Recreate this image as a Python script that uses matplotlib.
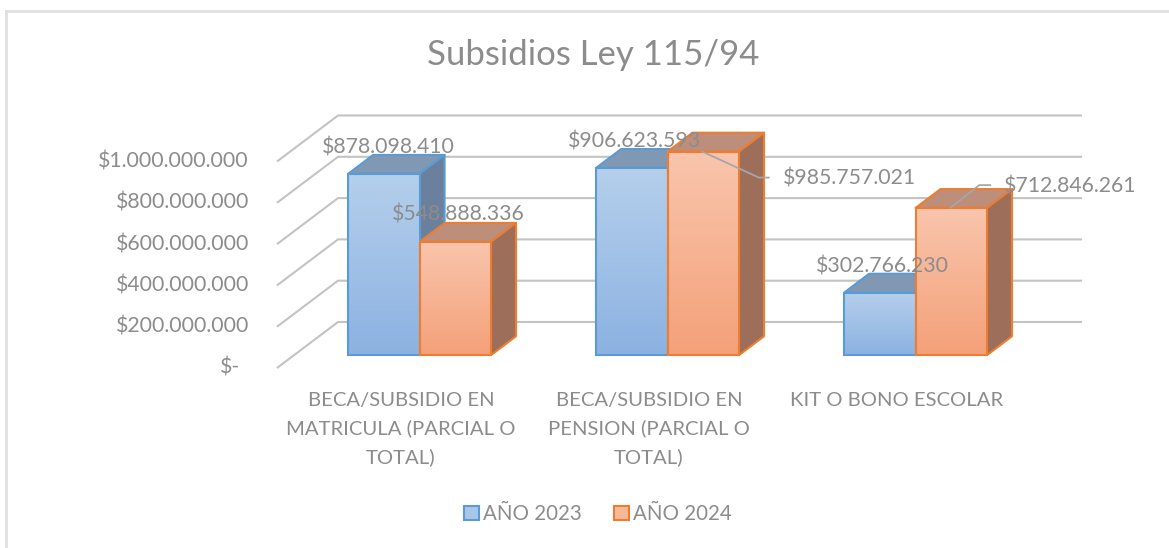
import numpy as np
import matplotlib.pyplot as plt
from matplotlib.patches import Polygon, Patch
from matplotlib.lines import Line2D
from matplotlib.colors import LinearSegmentedColormap

plt.rcParams['font.family'] = ['Lato', 'DejaVu Sans']

# data
categories = ["BECA/SUBSIDIO EN\nMATRICULA (PARCIAL O\nTOTAL)",
              "BECA/SUBSIDIO EN\nPENSION (PARCIAL O\nTOTAL)",
              "KIT O BONO ESCOLAR"]
series_names = ["AÑO 2023", "AÑO 2024"]
values_2023 = [878098410, 906623593, 302766230]
values_2024 = [548888336, 985757021, 712846261]
tick_values = [0, 200e6, 400e6, 600e6, 800e6, 1000e6]
tick_labels = ["$-", "$200.000.000", "$400.000.000", "$600.000.000",
               "$800.000.000", "$1.000.000.000"]
title = "Subsidios Ley 115/94"

# look
text_col = "#8c8c8c"
grid_col = "#c3c3c3"
front_cols = [("#b5cfec", "#8cb2e1"), ("#f9c5ad", "#f4a179")]
top_cols = ["#8198b4", "#bd8e7a"]
side_cols = ["#6a809c", "#9d6f5a"]
edge_cols = ["#5b9bd5", "#ed7d31"]
num_fs = 15.3

# oblique projection: pixels per category / per peso
PX_X = 248.0
PX_Y = 0.2065e-6
DX = 61 / PX_X          # full floor depth, in category units
DY = 46 / PX_Y          # full floor depth, in value units
Z0, Z1 = 0.28, 0.69     # bar depth span
GAP, BW = 0.218, 0.288  # gap and bar width (category units)


def px(dx, dy):
    return dx / PX_X, dy / PX_Y


fig = plt.figure(figsize=(11.69, 5.48), dpi=100)
ax = fig.add_axes([0, 0, 1, 1])
ax.set_xlim(-277 / PX_X, (1169 - 277) / PX_X)
ax.set_ylim(-(548 - 368) / PX_Y, 368 / PX_Y)
ax.axis('off')

# chart border (left + top only visible)
fig.add_artist(Line2D([6 / 1169, 6 / 1169], [0, 1 - 11 / 548], color="#e0e0e0", lw=2,
                      transform=fig.transFigure))
fig.add_artist(Line2D([6 / 1169, 1], [1 - 11 / 548, 1 - 11 / 548], color="#e0e0e0", lw=2,
                      transform=fig.transFigure))

# wall / floor gridlines
ncat = len(categories)
for v, lab in zip(tick_values, tick_labels):
    ax.plot([0, DX, ncat + DX], [v, v + DY, v + DY], color=grid_col, lw=1.5,
            zorder=1, solid_capstyle='butt')
    ax.text(-28 / PX_X - (9 / PX_X if v == 0 else 0), v, lab, ha='right', va='center',
            fontsize=num_fs, color=text_col)


def draw_bar(x0, v, s):
    xf = x0 + Z0 * DX
    yf = Z0 * DY
    ox, oy = (Z1 - Z0) * DX, (Z1 - Z0) * DY
    top = [(xf, v + yf), (xf + BW, v + yf), (xf + BW + ox, v + yf + oy), (xf + ox, v + yf + oy)]
    side = [(xf + BW, yf), (xf + BW + ox, yf + oy), (xf + BW + ox, v + yf + oy), (xf + BW, v + yf)]
    ax.add_patch(Polygon(top, closed=True, fc=top_cols[s], ec=edge_cols[s], lw=1.5, zorder=3,
                         joinstyle='round'))
    ax.add_patch(Polygon(side, closed=True, fc=side_cols[s], ec=edge_cols[s], lw=1.5, zorder=3,
                         joinstyle='round'))
    front = Polygon([(xf, yf), (xf + BW, yf), (xf + BW, v + yf), (xf, v + yf)], closed=True,
                    fc='none', ec=edge_cols[s], lw=1.5, zorder=4)
    ax.add_patch(front)
    cmap = LinearSegmentedColormap.from_list("g", [front_cols[s][1], front_cols[s][0]])
    grad = np.linspace(0, 1, 100).reshape(-1, 1)
    im = ax.imshow(grad, extent=(xf, xf + BW, yf, v + yf), origin='lower', aspect='auto',
                   cmap=cmap, zorder=3.5, interpolation='bilinear')
    im.set_clip_path(front)
    return xf + BW / 2, v + yf


# label offsets from the bar's top-front centre (pixels, right / up)
label_offsets = {(0, 0): (4, 26), (0, 1): (3, 27), (1, 0): (3, 26),
                 (1, 1): (146, -26.6), (2, 0): (3, 26.5), (2, 1): (119, 21)}
leaders = {(1, 1): [(-1, 0), (55.5, -26), (65.5, -26)],
           (2, 1): [(-1, 0), (28, 22.8), (39, 22.8)]}

for i in range(ncat):
    for s, vals in enumerate([values_2023, values_2024]):
        x0 = i + GAP + s * BW
        cx, cy = draw_bar(x0, vals[i], s)
        lab = "$" + f"{vals[i]:,.0f}".replace(",", ".")
        ox, oy = px(*label_offsets[(i, s)])
        ax.text(cx + ox, cy + oy, lab, ha='center', va='center', fontsize=num_fs,
                color=text_col, zorder=6)
        if (i, s) in leaders:
            pts = [px(a, b) for a, b in leaders[(i, s)]]
            ax.plot([cx + p[0] for p in pts], [cy + p[1] for p in pts], color="#a6a6a6",
                    lw=1.3, zorder=6)

# category labels
for i, cat in enumerate(categories):
    ax.text(i + 0.5, -24 / PX_Y, cat, ha='center', va='top', fontsize=14.6,
            color=text_col, linespacing=1.7)

fig.text(593 / 1169, 1 - 55 / 548, title, ha='center', va='center', fontsize=25,
         color=text_col)

handles = [Patch(fc="#a9c6e8", ec=edge_cols[0], lw=1.5),
           Patch(fc="#f7b898", ec=edge_cols[1], lw=1.5)]
leg = fig.legend(handles, series_names, loc='center', bbox_to_anchor=(598 / 1169, 1 - 514 / 548),
                 ncol=2, frameon=False, fontsize=14.8, handlelength=0.7, handleheight=0.7,
                 handletextpad=0.2, columnspacing=1.6)
for t in leg.get_texts():
    t.set_color(text_col)

fig.savefig("out.png", dpi=100)
